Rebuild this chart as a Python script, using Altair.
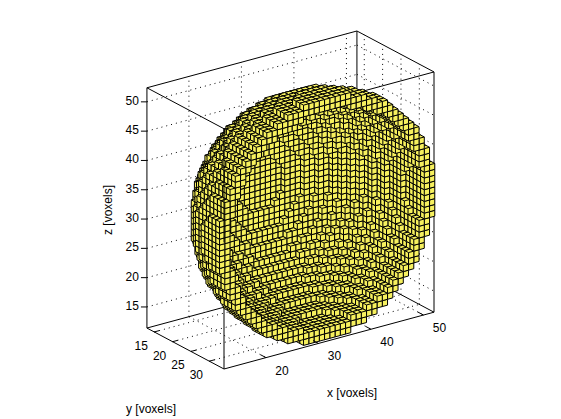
import altair as alt
import pandas as pd

# Digitised half-widths (in voxels, along x) of the sphere, row = |z offset|, column = |y offset|
half_width = [
    [20,20,20,20,20,19,19,19,18,18,17,17,16,15,14,13,12,11,9,7,4],
    [20,20,20,20,20,19,19,19,18,18,17,17,16,15,14,13,12,11,9,7,4],
    [20,20,20,20,20,19,19,19,18,18,17,17,16,15,14,13,12,11,9,7,4],
    [20,20,20,20,19,19,19,19,18,18,17,17,16,15,14,13,12,11,9,7,3],
    [20,20,20,19,19,19,19,18,18,17,17,16,16,15,14,13,12,10,8,6,2],
    [19,19,19,19,19,19,18,18,18,17,17,16,15,15,14,13,11,10,8,5],
    [19,19,19,19,19,18,18,18,17,17,16,16,15,14,13,12,11,9,7,4],
    [19,19,19,19,18,18,18,17,17,17,16,15,15,14,13,12,10,9,6,3],
    [18,18,18,18,18,18,17,17,17,16,16,15,14,13,12,11,10,8,5],
    [18,18,18,18,17,17,17,17,16,16,15,14,13,13,11,10,9,7,3],
    [17,17,17,17,17,17,16,16,16,15,14,14,13,12,11,9,8,5],
    [17,17,17,17,16,16,16,15,15,14,14,13,12,11,10,8,6,3],
    [16,16,16,16,16,15,15,15,14,13,13,12,11,10,8,7,4],
    [15,15,15,15,15,15,14,14,13,13,12,11,10,9,7,5],
    [14,14,14,14,14,14,13,13,12,11,11,10,8,7,5],
    [13,13,13,13,13,13,12,12,11,10,9,8,7,5],
    [12,12,12,12,12,11,11,10,10,9,8,6,4],
    [11,11,11,11,10,10,9,9,8,7,5,3],
    [9,9,9,9,8,8,7,6,5,3],
    [7,7,7,7,6,5,4,3],
    [4,4,4,3,2],
]
centre = (32, 33, 32)
shell_steps = 2

x_ticks = [20, 30, 40, 50]
y_ticks = [15, 20, 25, 30]
z_ticks = [15, 20, 25, 30, 35, 40, 45, 50]
x_lim = (12, 52)
y_lim = (13, 34)
z_lim = (11.4, 52.4)

W, H = 545, 408
EX, EY, EZ = (5.25, -1.42), (3.67, 1.95), (0.0, -5.86)
ORIGIN = (224 - 8, 369 - 8)


def proj(x, y, z):
    a, b, c = x - x_lim[0], y - y_lim[1], z - z_lim[0]
    return (ORIGIN[0] + a * EX[0] + b * EY[0],
            ORIGIN[1] + a * EX[1] + b * EY[1] + c * EZ[1])


# Voxels
solid = set()
for dz, row in enumerate(half_width):
    for dy, w in enumerate(row):
        for dx in range(-w, w + 1):
            for sz in {dz, -dz}:
                for sy in {dy, -dy}:
                    solid.add((dx, sy, sz))
N6 = [(1,0,0),(-1,0,0),(0,1,0),(0,-1,0),(0,0,1),(0,0,-1)]
core = solid
for _ in range(shell_steps):
    core = {v for v in core if all((v[0]+d[0], v[1]+d[1], v[2]+d[2]) in core for d in N6)}
shell = {v for v in solid - core if v[1] <= 0}
visible = [v for v in shell
           if (v[0]-1, v[1], v[2]) not in shell
           or (v[0], v[1]+1, v[2]) not in shell
           or (v[0], v[1], v[2]+1) not in shell]
visible.sort(key=lambda v: (-v[0] + v[1] + v[2]))
vox_rows = []
for dx, dy, dz in visible:
    px, py = proj(centre[0] + dx, centre[1] + dy, centre[2] + dz)
    vox_rows.append({"px": round(px, 2), "py": round(py, 2)})
vox = pd.DataFrame(vox_rows)

# Cube glyph: the three faces seen from -x, +y, +z
nx = (-EX[0] + EY[0] + EZ[0]) / 2
ny = (-EX[1] + EY[1] + EZ[1]) / 2
N = (nx, ny)
A = (nx + EX[0], ny + EX[1])
B = (nx - EY[0], ny - EY[1])
C = (nx - EZ[0], ny - EZ[1])
AB = (A[0] - EY[0], A[1] - EY[1])
BC = (B[0] - EZ[0], B[1] - EZ[1])
CA = (C[0] + EX[0], C[1] + EX[1])
f = lambda p: f"{p[0]:.2f} {p[1]:.2f}"
cube = (f"M{f(A)}L{f(AB)}L{f(B)}L{f(BC)}L{f(C)}L{f(CA)}Z"
        f"M{f(N)}L{f(A)}M{f(N)}L{f(B)}M{f(N)}L{f(C)}")


def seg_frame(segs):
    rows = []
    for i, (p, q) in enumerate(segs):
        for pt in (p, q):
            px, py = proj(*pt)
            rows.append({"px": px, "py": py, "seg": i})
    return pd.DataFrame(rows)


x0, x1 = x_lim
y0, y1 = y_lim
z0, z1 = z_lim
grid = []
for t in x_ticks:
    grid += [((t, y0, z0), (t, y1, z0)), ((t, y0, z0), (t, y0, z1))]
for t in y_ticks:
    grid += [((x0, t, z0), (x1, t, z0)), ((x1, t, z0), (x1, t, z1))]
for t in z_ticks:
    grid += [((x0, y0, t), (x1, y0, t)), ((x1, y0, t), (x1, y1, t))]

box = [
    ((x0, y0, z0), (x1, y0, z0)), ((x1, y0, z0), (x1, y1, z0)),
    ((x1, y1, z0), (x0, y1, z0)), ((x0, y1, z0), (x0, y0, z0)),
    ((x0, y0, z1), (x1, y0, z1)), ((x1, y0, z1), (x1, y1, z1)),
    ((x1, y1, z1), (x0, y1, z1)), ((x0, y1, z1), (x0, y0, z1)),
    ((x0, y0, z0), (x0, y0, z1)), ((x1, y0, z0), (x1, y0, z1)),
    ((x1, y1, z0), (x1, y1, z1)), ((x0, y1, z0), (x0, y1, z1)),
]
front = [((x0, y1, 33), (x0, y1, z1))]
ticks = []
for t in x_ticks:
    ticks.append(((t, y1, z0), (t, y1 - 1.5, z0)))
for t in y_ticks:
    ticks.append(((x0, t, z0), (x0 + 1, t, z0)))

xs = alt.Scale(domain=[0, W], range=[0, W], nice=False, zero=False)
ys = alt.Scale(domain=[0, H], range=[0, H], nice=False, zero=False)
ex = alt.X("px:Q", scale=xs, axis=None)
ey = alt.Y("py:Q", scale=ys, axis=None)


def lines(segs, **kw):
    return alt.Chart(seg_frame(segs)).mark_line(color="black", strokeWidth=1, **kw).encode(
        x=ex, y=ey, detail="seg:N")


ztick_rows = []
for t in z_ticks:
    px, py = proj(x0, y0, t)
    ztick_rows += [{"px": px, "py": py, "seg": t}, {"px": px - 6, "py": py, "seg": t}]
ztick_layer = alt.Chart(pd.DataFrame(ztick_rows)).mark_line(color="black", strokeWidth=1).encode(
    x=ex, y=ey, detail="seg:N")

labels = []
for t in x_ticks:
    px, py = proj(t, y1, z0)
    labels.append({"px": px + 16, "py": py + 13, "t": str(t)})
for t in y_ticks:
    px, py = proj(x0, t, z0)
    labels.append({"px": px - 13, "py": py + 14, "t": str(t)})
label_df = pd.DataFrame(labels)
zlabels = []
for t in z_ticks:
    px, py = proj(x0, y0, t)
    zlabels.append({"px": px - 8, "py": py - 1, "t": str(t)})

FONT = "Liberation Sans"
label_layer = alt.Chart(label_df).mark_text(font=FONT, fontSize=12, color="black", align="center", baseline="middle").encode(
    x=ex, y=ey, text="t:N")
zlabel_layer = alt.Chart(pd.DataFrame(zlabels)).mark_text(font=FONT, fontSize=12, color="black", align="right", baseline="middle").encode(
    x=ex, y=ey, text="t:N")
titles = pd.DataFrame([
    {"px": 352 - 8, "py": 393 - 8, "t": "x [voxels]"},
    {"px": 151 - 8, "py": 409 - 8, "t": "y [voxels]"},
])
title_layer = alt.Chart(titles).mark_text(font=FONT, fontSize=12, color="black", align="center", baseline="middle").encode(
    x=ex, y=ey, text="t:N")
ztitle = alt.Chart(pd.DataFrame([{"px": 108 - 8, "py": 210 - 8, "t": "z [voxels]"}])).mark_text(
    font=FONT, fontSize=12, color="black", align="center", baseline="middle", angle=270).encode(
    x=ex, y=ey, text="t:N")

vox_layer = alt.Chart(vox).mark_point(
    shape=cube, size=4, filled=True, fill="#F6F05E", stroke="black", strokeWidth=1, opacity=1,
    fillOpacity=1, strokeOpacity=1).encode(x=ex, y=ey)

chart = alt.layer(
    lines(grid, strokeDash=[1, 4]),
    lines(box),
    vox_layer,
    lines(front),
    lines(ticks),
    ztick_layer,
    label_layer,
    zlabel_layer,
    title_layer,
    ztitle,
).properties(width=W, height=H, padding=0, background="white",
             autosize=alt.AutoSizeParams(type="none")
).configure_view(stroke=None)

chart.save("out.html", embed_options={"renderer": "svg", "actions": False})
